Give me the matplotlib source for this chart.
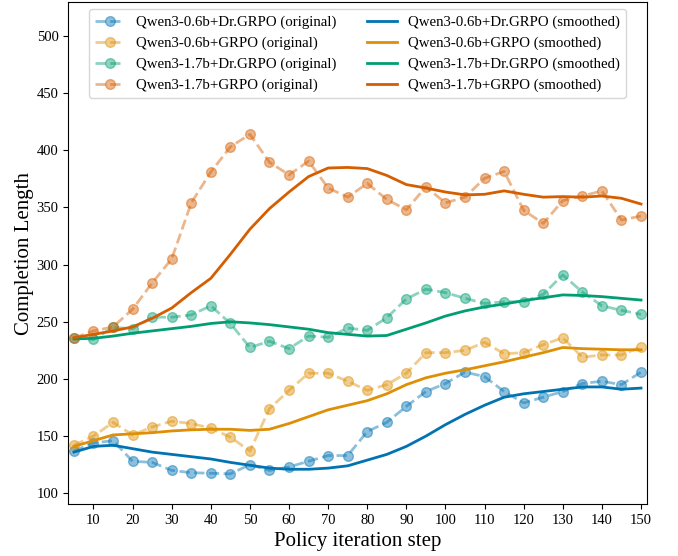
import matplotlib

matplotlib.use("Agg")
import matplotlib.pyplot as plt  # noqa: E402

plt.rcParams["font.family"] = ["Liberation Serif", "DejaVu Serif"]

steps = list(range(5, 151, 5))

# Qwen3-0.6b + Dr.GRPO
dr06_orig = [137, 144, 146, 128, 127, 120, 118, 117.5, 117, 125, 120, 123, 128, 133, 133,
             154, 162, 176, 189, 196, 206, 202, 189, 179, 184, 189, 196, 198, 195, 206]
dr06_smooth = [136, 141, 142, 139, 136, 134, 132, 130, 127, 124.5, 122, 121, 121, 122, 124,
               129, 134, 141, 150, 160, 169, 177, 184, 187, 189, 191, 193, 193, 191, 192]
# Qwen3-0.6b + GRPO
grpo06_orig = [142, 150, 162, 151, 158, 163, 161, 157, 149, 137, 174, 190, 205, 205, 198,
               190, 195, 205, 223, 223, 225, 232, 222, 223, 230, 236, 219, 221, 221, 228]
grpo06_smooth = [141, 146, 151, 152, 153, 154.5, 155.5, 156, 156, 155, 156, 161, 167, 173, 177,
                 181, 187, 195, 201, 205, 208, 211.5, 215, 219, 223, 227.5, 226.5, 226, 225.5, 225.5]
# Qwen3-1.7b + Dr.GRPO
dr17_orig = [236, 234.5, 245, 244, 254, 254, 256, 264, 248.5, 227.5, 233, 226.5, 237.5, 236.5, 244.5,
             242.5, 253.5, 270, 278.5, 275.5, 270.5, 266, 267.5, 267.5, 274, 291, 276, 264, 260, 256.5]
dr17_smooth = [235, 235.5, 237.5, 240, 242, 244, 246, 248.5, 250, 249, 247.5, 245.5, 243.5, 240.5, 239,
               237.5, 238, 243.5, 249, 255, 259.5, 263, 265.5, 268.5, 271, 273.5, 273, 272, 270.5, 269]
# Qwen3-1.7b + GRPO
grpo17_orig = [236, 242, 245.5, 261, 284, 305, 354, 381, 403, 414, 389.5, 378.5, 390.5, 367, 359,
               371, 357, 348, 368, 354, 359, 375.5, 381.5, 347.5, 336, 356, 360, 364.5, 339, 342.5]
grpo17_smooth = [236, 239, 242, 245.5, 253, 262, 275.5, 288, 309, 331, 349, 363.5, 377, 384.5, 385,
                 384, 378, 370, 367, 363.5, 361, 361.5, 364.5, 361.5, 359, 359.5, 359, 360, 358, 353]

names = ["Qwen3-0.6b+Dr.GRPO", "Qwen3-0.6b+GRPO", "Qwen3-1.7b+Dr.GRPO", "Qwen3-1.7b+GRPO"]
colors = ["#0173B2", "#DE8F05", "#029E73", "#D55E00"]
originals = [dr06_orig, grpo06_orig, dr17_orig, grpo17_orig]
smoothed = [dr06_smooth, grpo06_smooth, dr17_smooth, grpo17_smooth]

fig, ax = plt.subplots(figsize=(6.78, 5.56), dpi=100)
fig.subplots_adjust(left=0.1007, right=0.9538, top=0.9964, bottom=0.0935)

for name, col, ys in zip(names, colors, originals):
    ax.plot(steps, ys, ls="--", marker="o", ms=7, lw=2, color=col, alpha=0.45,
            label=f"{name} (original)")
for name, col, ys in zip(names, colors, smoothed):
    ax.plot(steps, ys, ls="-", lw=2, color=col, label=f"{name} (smoothed)")

ax.set_xlim(3.55, 151.45)
ax.set_ylim(90.6, 529.7)
ax.set_xticks(range(10, 151, 10))
ax.set_yticks(range(100, 501, 50))
ax.tick_params(labelsize=10.5)
ax.set_xlabel("Policy iteration step", fontsize=15)
ax.set_ylabel("Completion Length", fontsize=15, labelpad=2)
ax.legend(loc="upper center", ncol=2, fontsize=10.75)

fig.savefig("out.png", dpi=100)
